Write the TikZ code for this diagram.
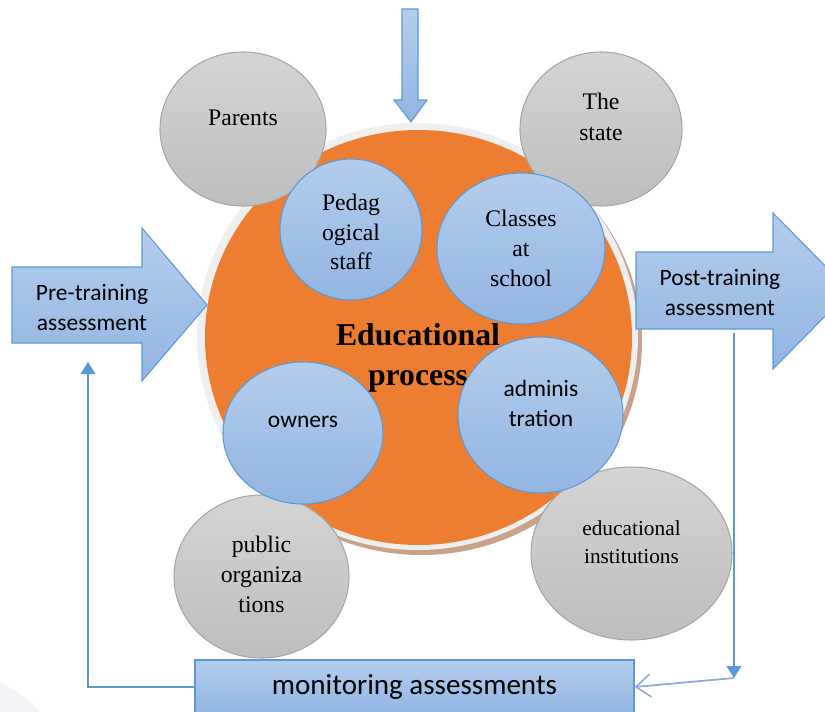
\documentclass[tikz,border=0pt]{standalone}
\usepackage{fontspec}
\setmainfont{Liberation Serif}
\newfontfamily\calib{Carlito}
\usetikzlibrary{shapes.geometric,arrows.meta}

\definecolor{orangeA}{HTML}{ED7D31}
\definecolor{blueTop}{HTML}{B4CDEC}
\definecolor{blueBot}{HTML}{92B5E2}
\definecolor{blueEdge}{HTML}{5B9BD5}
\definecolor{greyTop}{HTML}{D4D4D4}
\definecolor{greyBot}{HTML}{BEBEBE}
\definecolor{greyEdge}{HTML}{A6A6A6}
\definecolor{ringGrey}{HTML}{EFEFEF}
\definecolor{ringBrown}{HTML}{C9A28A}
\definecolor{lineBlue}{HTML}{5B9BD5}
\definecolor{lineLight}{HTML}{8EAADB}
\definecolor{faint}{HTML}{F3F4F7}

\begin{document}
\begin{tikzpicture}[x=0.75pt,y=-0.75pt,
  ell/.style 2 args={ellipse,inner sep=0pt,minimum width=#1*0.75pt,minimum height=#2*0.75pt},
  bluec/.style={draw=blueEdge,line width=0.8pt,top color=blueTop,bottom color=blueBot},
  greyc/.style={draw=greyEdge,line width=0.8pt,top color=greyTop,bottom color=greyBot},
  serif/.style={align=center,inner sep=0pt,font=\fontsize{17.8}{22.5}\selectfont},
  sans/.style={align=center,inner sep=0pt,font=\calib\fontsize{17.6}{22.5}\selectfont},
  blockfill/.style={draw=blueEdge,line width=0.8pt,top color=blueTop,bottom color=blueBot},
  link/.style={draw=lineBlue,line width=1.5pt},
  backlink/.style={draw=lineLight,line width=1.3pt}
]
\useasboundingbox (0,0) rectangle (825,711);
\clip (0,0) rectangle (825,711);

% faint disc in the lower left corner
\node[ell={210}{210},fill=faint] (corner) at (-40,780) {};

% the educational process disc with its rim and shadow
\node[ell={441}{427},fill=ringBrown] (rimB) at (421.5,341.5) {};
\node[ell={441}{427},fill=ringGrey] (rimG) at (417.5,336.5) {};
\node[ell={427}{415},fill=orangeA] (core) at (418.5,337.5) {};
\node[align=center,inner sep=0pt,font=\bfseries\fontsize{23.8}{30}\selectfont] (coreT) at (418,358) {Educational\\process};

% outer participants
\node[ell={166}{154},greyc] (par) at (243,129) {};
\node[serif] (parT) at (243,118) {Parents};
\node[ell={162}{154},greyc] (sta) at (601,129) {};
\node[serif,font=\fontsize{17.8}{23.5}\selectfont] (staT) at (601,117) {The\\state};
\node[ell={175}{163},greyc] (pub) at (261.5,576.5) {};
\node[serif] (pubT) at (261.5,574) {public\\organiza\\tions};
\node[ell={201}{173},greyc] (edu) at (631.5,553.5) {};
\node[serif,font=\fontsize{16}{21}\selectfont] (eduT) at (631.5,542) {educational\\institutions};

% inner participants
\node[ell={142}{141},bluec] (ped) at (351,229.5) {};
\node[serif,font=\fontsize{17.8}{22}\selectfont] (pedT) at (351,232) {Pedag\\ogical\\staff};
\node[ell={168}{151},bluec] (cls) at (521,248.5) {};
\node[serif] (clsT) at (521,248) {Classes\\at\\school};
\node[ell={160}{142},bluec] (own) at (303,433) {};
\node[sans] (ownT) at (303,422) {owners};
\node[ell={165}{156},bluec] (adm) at (540.5,415) {};
\node[sans] (admT) at (541,403) {adminis\\tration};

% incoming arrow from above
\path[blockfill] (402,9) -- (418,9) -- (418,100) -- (427,100) -- (411,122) -- (394,100) -- (402,100) -- cycle;

% pre-training block arrow
\path[blockfill] (12,267) -- (142,267) -- (142,228) -- (207,305) -- (142,381) -- (142,343) -- (12,343) -- cycle;
\node[sans] (pre) at (92,308) {Pre-training\\assessment};

% post-training block arrow
\path[blockfill] (636,252) -- (773,252) -- (773,213) -- (850,291) -- (773,369) -- (773,329) -- (636,329) -- cycle;
\node[sans] (post) at (720,293) {Post-training\\assessment};

% monitoring box
\node[blockfill,minimum width=439*0.75pt,minimum height=54*0.75pt,inner sep=0pt,
      font=\calib\fontsize{21.8}{26}\selectfont] (mon) at (414.5,687) {monitoring assessments};

% feedback loop
\coordinate (lpre) at (88,362);
\coordinate (rtop) at (734,333);
\coordinate (rbot) at (734,678);
\draw[link,-{Triangle[width=11pt,length=9pt]}] (mon.west) -| (lpre);
\draw[link,-{Triangle[width=11pt,length=9pt]}] (rtop) -- (rbot);
\draw[backlink,-{Straight Barb[length=11pt,width=17pt,line width=1.2pt]}] (rbot) -- (mon.east);
\end{tikzpicture}
\end{document}
